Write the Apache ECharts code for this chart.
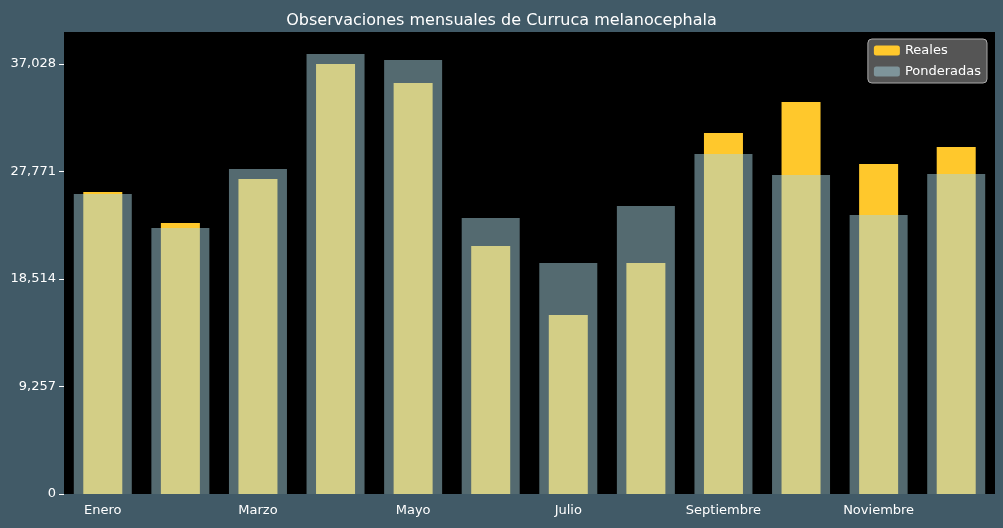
<!DOCTYPE html>
<html>
<head>
<meta charset="utf-8">
<script src="https://cdn.jsdelivr.net/npm/echarts@6/dist/echarts.min.js"></script>
<style>html,body{margin:0;padding:0;background:#415a67}#main{width:1003px;height:528px}</style>
</head>
<body>
<div id="main"></div>
<script>
var meses = ['Enero','Febrero','Marzo','Abril','Mayo','Junio','Julio','Agosto','Septiembre','Octubre','Noviembre','Diciembre'];
var reales = [26005, 23336, 27125, 37028, 35391, 21355, 15414, 19891, 31086, 33755, 28416, 29880];
var ponderadas = [25833, 22905, 27986, 37888, 37372, 23766, 19891, 24800, 29278, 27469, 24025, 27555];
var ticks = 9257;

var myChart = echarts.init(document.getElementById('main'));
var option = {
  backgroundColor: '#415a67',
  title: {
    text: 'Observaciones mensuales de Curruca melanocephala',
    left: 'center', top: 8,
    textStyle: {color: '#ffffff', fontSize: 16, fontWeight: 'normal', fontFamily: 'DejaVu Sans'}
  },
  legend: {
    data: ['Reales', 'Ponderadas'],
    orient: 'vertical', right: 16, top: 39,
    backgroundColor: 'rgba(90,90,90,0.95)', borderColor: '#aaaaaa', borderWidth: 1, borderRadius: 4,
    padding: [5, 6], itemWidth: 26, itemHeight: 10, itemGap: 8,
    textStyle: {color: '#ffffff', fontSize: 13, fontFamily: 'DejaVu Sans'}
  },
  grid: {left: 64, right: 8, top: 32, bottom: 34, show: true, backgroundColor: '#000000', borderWidth: 0},
  xAxis: [{
    type: 'category', data: meses,
    axisLine: {show: false}, axisTick: {show: false},
    axisLabel: {color: '#ffffff', fontSize: 13, fontFamily: 'DejaVu Sans', margin: 10}
  }, {
    type: 'category', data: meses, show: false
  }],
  yAxis: {
    type: 'value', min: 0, max: 39783, interval: ticks,
    splitLine: {show: false},
    axisLine: {show: false},
    axisTick: {show: true, lineStyle: {color: '#ffffff'}},
    axisLabel: {color: '#ffffff', fontSize: 13, fontFamily: 'DejaVu Sans', showMaxLabel: false}
  },
  series: [{
    name: 'Reales', type: 'bar', xAxisIndex: 0, data: reales, barWidth: 39,
    itemStyle: {color: '#ffc82c'}, z: 1
  }, {
    name: 'Ponderadas', type: 'bar', xAxisIndex: 1, data: ponderadas, barWidth: 58,
    itemStyle: {color: 'rgba(168,212,224,0.5)'}, z: 2
  }]
};
myChart.setOption(option);
</script>
</body>
</html>
